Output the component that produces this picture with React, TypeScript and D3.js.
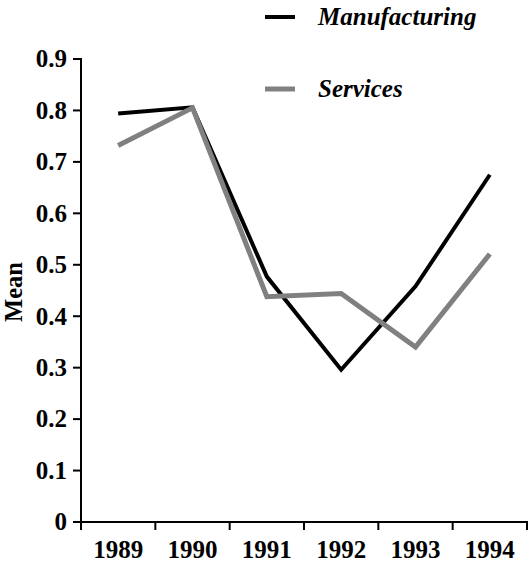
import React from "react";
import * as d3 from "d3";

const years = ["1989", "1990", "1991", "1992", "1993", "1994"];
const manufacturing = [0.794, 0.806, 0.477, 0.296, 0.458, 0.675];
const services = [0.732, 0.805, 0.438, 0.444, 0.34, 0.521];
const yTicks = [0, 0.1, 0.2, 0.3, 0.4, 0.5, 0.6, 0.7, 0.8, 0.9];

const W = 529;
const H = 563;
const FONT = "'Liberation Serif', 'Times New Roman', serif";

export default function App() {
  const x = d3.scaleBand<string>().domain(years).range([81, 527]).padding(0);
  const y = d3.scaleLinear().domain([0, 0.9]).range([522, 59]);
  const cx = (d: string) => (x(d) as number) + x.bandwidth() / 2;

  const line = d3
    .line<number>()
    .x((_, i) => cx(years[i]))
    .y((v) => y(v));

  const boundaries = [...years.map((d) => x(d) as number), 527];

  return (
    <svg
      width={W}
      height={H}
      style={{ position: "absolute", left: 0, top: 0, background: "#fff" }}
      fontFamily={FONT}
      fontWeight="bold"
    >
      {/* y axis */}
      <line x1={81} x2={81} y1={y(0.9) - 1} y2={530} stroke="#000" strokeWidth={2} />
      {yTicks.map((t) => (
        <g key={t}>
          <line x1={73} x2={81} y1={y(t)} y2={y(t)} stroke="#000" strokeWidth={2} />
          <text x={67} y={y(t) + 8.3} textAnchor="end" fontSize={25}>
            {t === 0 ? "0" : d3.format(".1f")(t)}
          </text>
        </g>
      ))}
      {/* x axis */}
      <line x1={80} x2={528} y1={y(0)} y2={y(0)} stroke="#000" strokeWidth={2} />
      {boundaries.map((b, i) => (
        <line key={i} x1={b} x2={b} y1={y(0)} y2={y(0) + 8} stroke="#000" strokeWidth={2} />
      ))}
      {years.map((d) => (
        <text key={d} x={cx(d)} y={558} textAnchor="middle" fontSize={25}>
          {d}
        </text>
      ))}
      {/* axis title */}
      <text
        transform={`translate(22,292) rotate(-90)`}
        textAnchor="middle"
        fontSize={24.5}
      >
        Mean
      </text>
      {/* series */}
      <path d={line(manufacturing) || ""} fill="none" stroke="#000" strokeWidth={4} strokeLinejoin="miter" />
      <path d={line(services) || ""} fill="none" stroke="#808080" strokeWidth={5} strokeLinejoin="miter" />
      {/* legend */}
      <line x1={265} x2={295} y1={17} y2={17} stroke="#000" strokeWidth={4} />
      <text x={318} y={25} fontSize={25} fontStyle="italic">
        Manufacturing
      </text>
      <line x1={265} x2={295} y1={89} y2={89} stroke="#808080" strokeWidth={5} />
      <text x={318} y={97} fontSize={25} fontStyle="italic">
        Services
      </text>
    </svg>
  );
}
